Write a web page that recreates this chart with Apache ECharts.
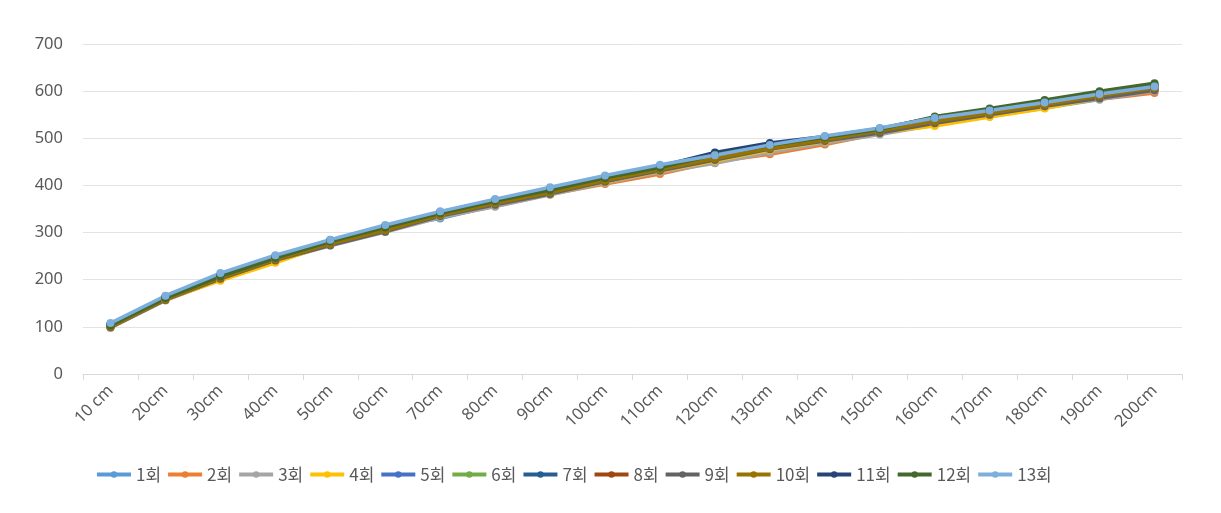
<!DOCTYPE html>
<html><head><meta charset="utf-8">
<script src="https://cdn.jsdelivr.net/npm/echarts@6/dist/echarts.min.js"></script>
<style>html,body{margin:0;padding:0;background:#fff}#c{width:1221px;height:513px}</style>
</head><body><div id="c"></div>
<script>
const categories = ['10 cm','20cm','30cm','40cm','50cm','60cm','70cm','80cm','90cm','100cm','110cm','120cm','130cm','140cm','150cm','160cm','170cm','180cm','190cm','200cm'];
const seriesNames = ['1회','2회','3회','4회','5회','6회','7회','8회','9회','10회','11회','12회','13회'];
const s1  = [105,163,209,246,281,311,330,358,384,410,432,455,475,490,510,535,551,570,589,606];
const s2  = [98,157,200,239,274,303,333,356,381,403,424,450,466,487,510,530,548,566,583,596];
const s3  = [98,156,201,240,272,301,332,355,380,405,428,447,470,490,508,528,546,564,582,600];
const s4  = [100,158,198,236,276,305,336,360,383,407,430,452,475,493,512,526,545,563,586,603];
const s5  = [104,162,208,245,280,312,340,365,390,415,437,460,482,500,518,540,558,575,594,611];
const s6  = [102,160,206,244,279,308,338,363,387,412,435,462,478,498,515,537,555,572,591,608];
const s7  = [106,164,210,248,283,313,342,368,392,418,440,468,488,503,520,543,560,578,596,612];
const s8  = [101,159,203,242,277,307,339,366,386,409,433,456,480,496,514,534,552,570,588,604];
const s9  = [99,157,202,241,273,302,335,359,382,408,431,454,477,494,511,532,550,568,585,602];
const s10 = [100,158,204,243,276,305,337,362,385,411,434,457,479,497,516,536,553,571,590,607];
const s11 = [105,163,210,249,284,314,343,369,393,417,441,470,490,504,521,544,561,579,597,613];
const s12 = [103,161,207,246,281,311,341,367,390,416,438,465,485,502,519,546,563,581,600,617];
const s13 = [108,166,214,252,285,316,345,371,396,421,444,464,486,505,522,543,559,576,594,610];
const allValues = [s1,s2,s3,s4,s5,s6,s7,s8,s9,s10,s11,s12,s13];
const colors = ['#5B9BD5','#ED7D31','#A5A5A5','#FFC000','#4472C4','#70AD47','#255E91','#9E480E','#636363','#997300','#264478','#43682B','#7CAFDD'];

const chart = echarts.init(document.getElementById('c'), null, {renderer:'canvas'});
chart.setOption({
  animation:false,
  color: colors,
  grid:{left:83,right:39,top:44,bottom:139,containLabel:false},
  legend:{
    bottom:25, left:90, itemWidth:34, itemHeight:8, itemGap:5,
    lineStyle:{width:4},
    textStyle:{fontFamily:'Noto Sans CJK KR',fontSize:17,color:'#595959'},
    data: seriesNames
  },
  xAxis:{
    type:'category', data:categories, boundaryGap:true,
    axisLine:{lineStyle:{color:'#D9D9D9'}},
    axisTick:{show:true,alignWithLabel:false,length:6,lineStyle:{color:'#D9D9D9'}},
    axisLabel:{rotate:45,interval:0,fontFamily:'Noto Sans',fontSize:16.5,color:'#595959',margin:14}
  },
  yAxis:{
    type:'value', min:0, max:700, interval:100,
    axisLine:{show:false}, axisTick:{show:false},
    splitLine:{lineStyle:{color:'#E3E3E3'}},
    axisLabel:{fontFamily:'Noto Sans',fontSize:16.5,color:'#595959',margin:20}
  },
  series: seriesNames.map((n,i)=>({
    name:n, type:'line', data:allValues[i],
    symbol:'circle', symbolSize:8,
    lineStyle:{width:3.5},
    itemStyle:{color:colors[i]}
  }))
});
</script></body></html>
